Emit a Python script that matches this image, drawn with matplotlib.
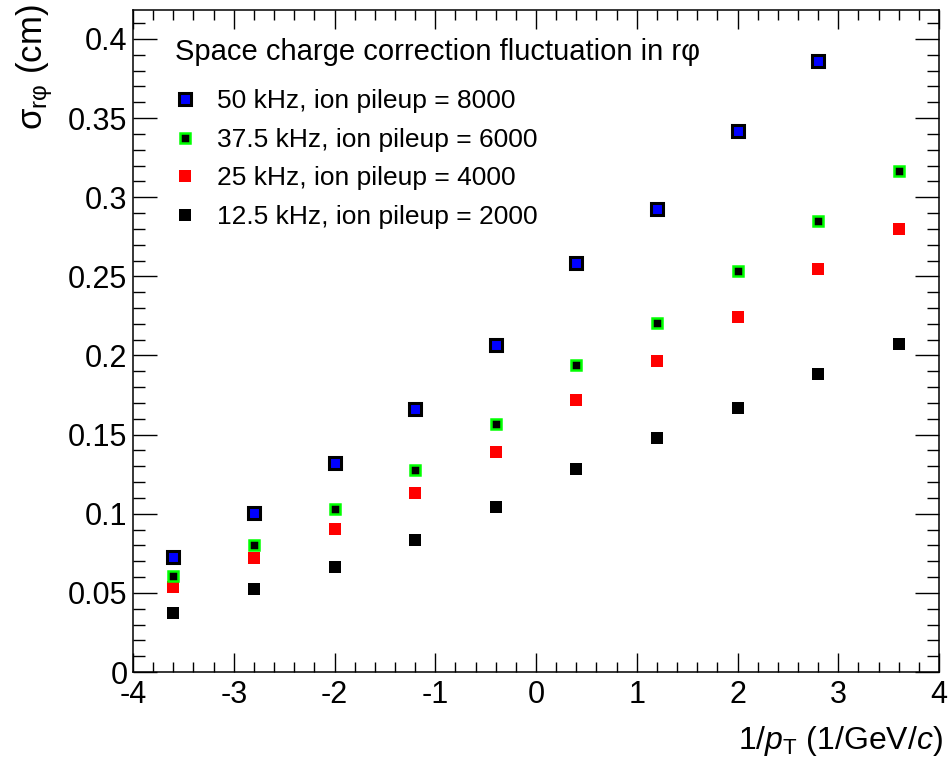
import numpy as np
import matplotlib
matplotlib.use("Agg")
import matplotlib.pyplot as plt
from matplotlib.ticker import MultipleLocator, FixedLocator, FixedFormatter

plt.rcParams['font.family'] = ['Liberation Sans', 'DejaVu Sans']
plt.rcParams['mathtext.fontset'] = 'custom'
plt.rcParams['mathtext.rm'] = 'Liberation Sans'
plt.rcParams['mathtext.it'] = 'Liberation Sans:italic'
plt.rcParams['mathtext.bf'] = 'Liberation Sans:bold'

# 1/pT bin centres (1/GeV/c)
inv_pt = [-3.6, -2.8, -2.0, -1.2, -0.4, 0.4, 1.2, 2.0, 2.8, 3.6]

# sigma_rphi (cm) per interaction rate
sigma_50 = [0.0727, 0.1005, 0.1320, 0.1660, 0.2066, 0.2585, 0.2926, 0.3420, 0.3860, 0.4300]
sigma_37p5 = [0.0607, 0.0803, 0.1030, 0.1276, 0.1567, 0.1940, 0.2205, 0.2534, 0.2850, 0.3166]
sigma_25 = [0.0537, 0.0720, 0.0904, 0.1131, 0.1390, 0.1719, 0.1965, 0.2243, 0.2547, 0.2800]
sigma_12p5 = [0.0373, 0.0524, 0.0664, 0.0834, 0.1043, 0.1283, 0.1479, 0.1668, 0.1883, 0.2073]

labels = ["50 kHz, ion pileup = 8000",
          "37.5 kHz, ion pileup = 6000",
          "25 kHz, ion pileup = 4000",
          "12.5 kHz, ion pileup = 2000"]
legend_title = "Space charge correction fluctuation in rφ"

y_ticks = [0, 0.05, 0.1, 0.15, 0.2, 0.25, 0.3, 0.35, 0.4]
y_tick_labels = ["0", "0.05", "0.1", "0.15", "0.2", "0.25", "0.3", "0.35", "0.4"]
x_ticks = [-4, -3, -2, -1, 0, 1, 2, 3, 4]
x_tick_labels = ["-4", "-3", "-2", "-1", "0", "1", "2", "3", "4"]

fig = plt.figure(figsize=(9.51, 7.65), dpi=100)
ax = fig.add_axes([133 / 951, 1 - 672 / 765, (939 - 133) / 951, (672 - 10) / 765])

h50, = ax.plot(inv_pt, sigma_50, ls='none', marker='s', ms=8.0, mew=2.2,
               mfc='#0000ff', mec='black', zorder=3)
h12, = ax.plot(inv_pt, sigma_12p5, ls='none', marker='s', ms=8.6, mew=0,
               mfc='black', mec='black', zorder=3)
h25, = ax.plot(inv_pt, sigma_25, ls='none', marker='s', ms=8.6, mew=0,
               mfc='#ff0000', mec='#ff0000', zorder=3)
h37, = ax.plot(inv_pt, sigma_37p5, ls='none', marker='s', ms=6.8, mew=1.8,
               mfc='black', mec='#00ff00', zorder=4)

ax.set_xlim(-4, 4)
ax.set_ylim(0, 0.4183)

ax.xaxis.set_major_locator(FixedLocator(x_ticks))
ax.xaxis.set_major_formatter(FixedFormatter(x_tick_labels))
ax.xaxis.set_minor_locator(MultipleLocator(0.2))
ax.yaxis.set_major_locator(FixedLocator(y_ticks))
ax.yaxis.set_major_formatter(FixedFormatter(y_tick_labels))
ax.yaxis.set_minor_locator(MultipleLocator(0.01))

ax.tick_params(axis='both', which='both', direction='in', top=True, right=True,
               width=1.0, color='black', labelsize=22)
ax.tick_params(axis='x', which='major', length=14, pad=6)
ax.tick_params(axis='x', which='minor', length=7.2)
ax.tick_params(axis='y', which='major', length=17, pad=4)
ax.tick_params(axis='y', which='minor', length=8.6)
for s in ax.spines.values():
    s.set_linewidth(1.1)

fig.text(943 / 951, 1 - 741 / 765, r'1/$p_{\mathrm{T}}$ (1/GeV/$c$)',
         ha='right', va='center', fontsize=23)
fig.text(35 / 951, 1 - 4 / 765, r'σ$_{\mathrm{r\varphi}}$ (cm)',
         rotation=90, ha='center', va='top', fontsize=25)

# legend heading drawn as its own line above the entries
ax.text((175 - 133) / 806, (672 - 52) / 662, legend_title,
        transform=ax.transAxes, ha='left', va='center', fontsize=21)

leg = ax.legend([h50, h37, h25, h12], labels,
                loc='upper left', bbox_to_anchor=(0.0367, 0.896),
                frameon=False, fontsize=19,
                handlelength=0.9, handletextpad=0.76, labelspacing=0.55,
                borderaxespad=0)

fig.savefig('out.png', dpi=100)
